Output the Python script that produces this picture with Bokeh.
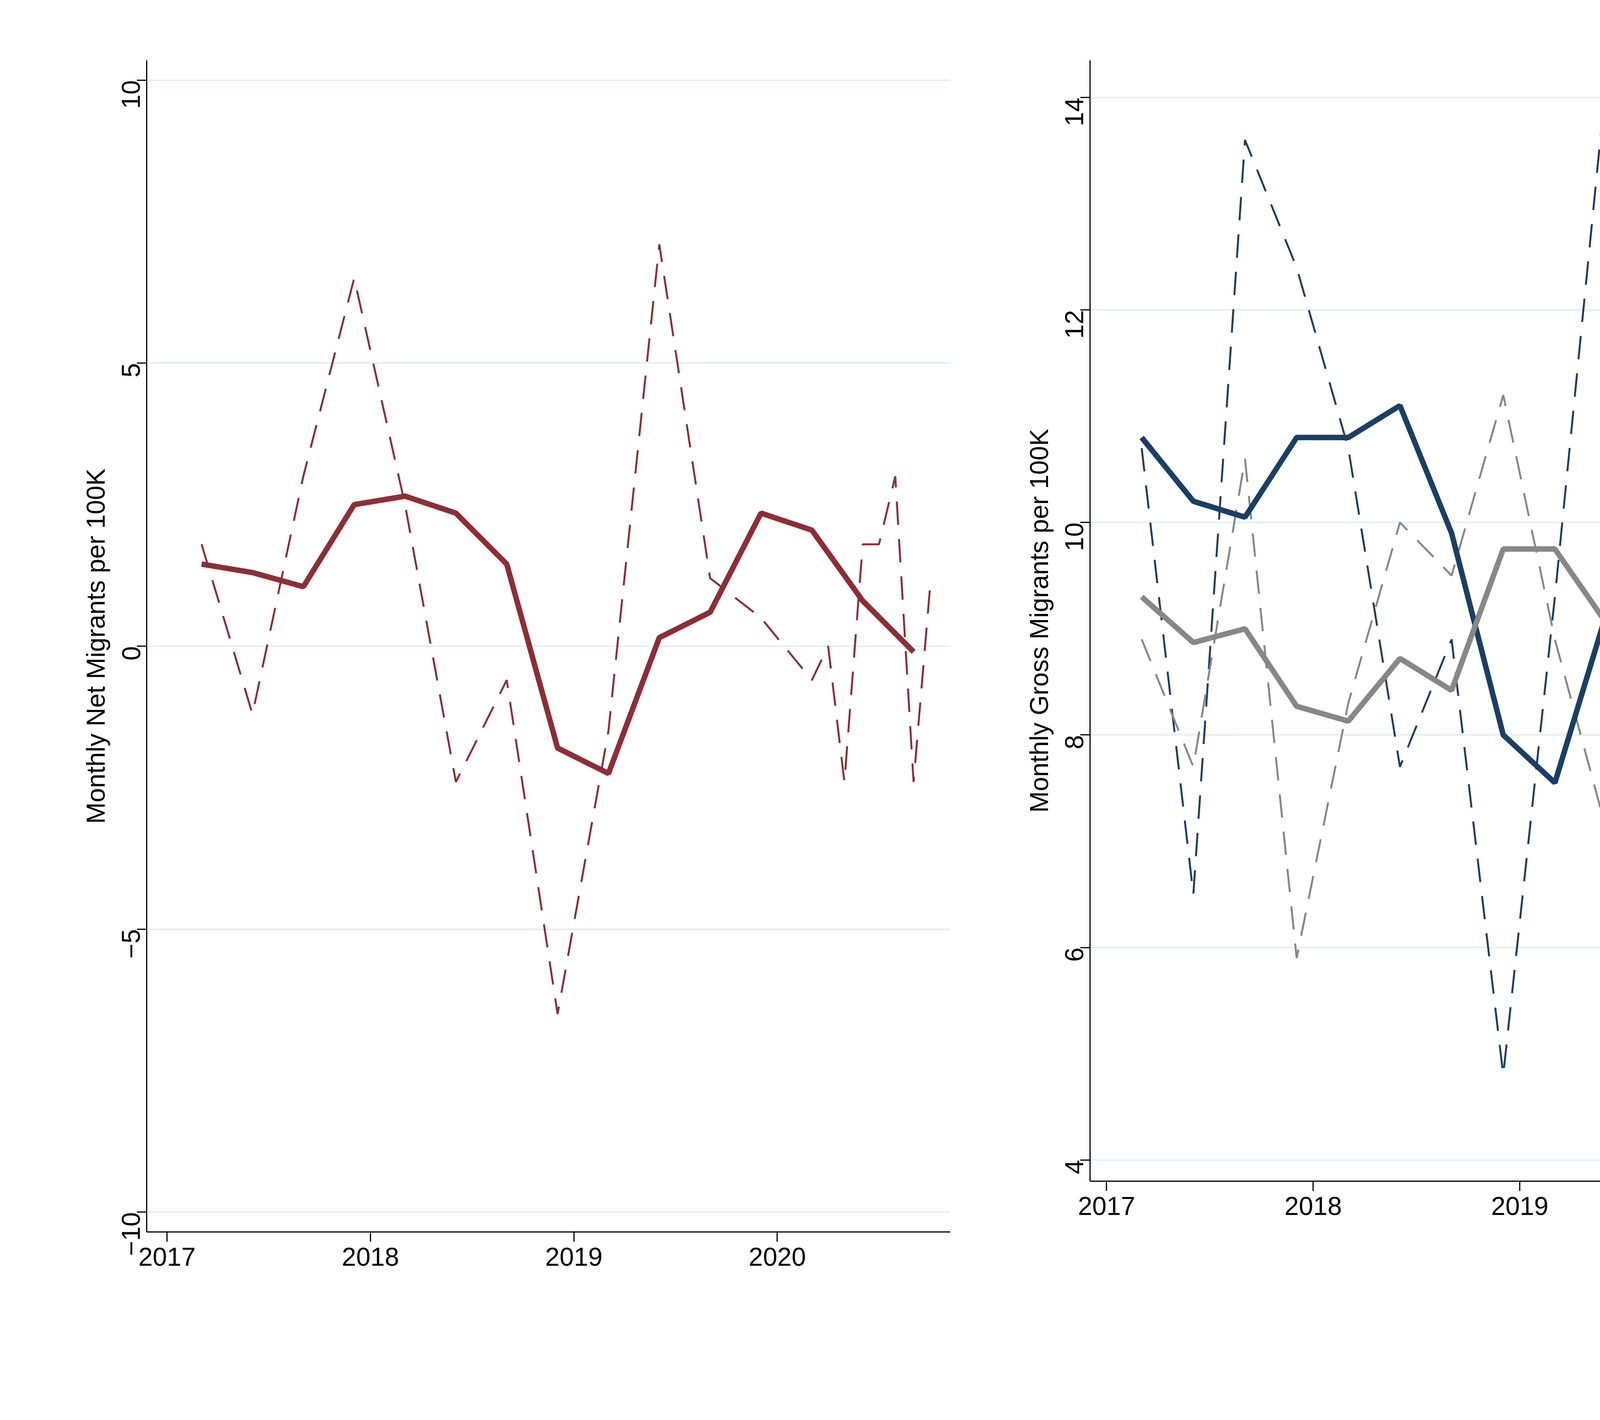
import math
from bokeh.plotting import figure
from bokeh.layouts import row
from bokeh.models import Legend, LegendItem, FixedTicker, Range1d
from bokeh.embed import file_html
from bokeh.resources import INLINE

q_x = [2017.17,2017.42,2017.67,2017.92,2018.17,2018.42,2018.67,2018.92,2019.17,2019.42,2019.67,2019.92,2020.17,2020.42,2020.67]
net_x = q_x[:13] + [2020.25,2020.33,2020.42,2020.5,2020.58,2020.67,2020.75]
net_out = [1.8,-1.2,3.0,6.5,2.5,-2.4,-0.6,-6.5,-1.5,7.1,1.2,0.5,-0.6,0.0,-2.4,1.8,1.8,3.0,-2.4,1.0]
net_ma = [1.45,1.3,1.05,2.5,2.65,2.35,1.45,-1.8,-2.25,0.15,0.6,2.35,2.05,0.8,-0.1]

g_x = q_x[:12] + [2020.17,2020.25,2020.33,2020.42,2020.5,2020.58,2020.67,2020.75]
gout = [10.7,6.5,13.6,12.4,10.7,7.7,8.9,4.8,9.3,14.2,8.9,8.3,6.5,6.5,6.5,8.9,10.7,6.5,9.4,9.4]
gin = [8.9,7.7,10.6,5.9,8.3,10.0,9.5,11.2,8.9,7.1,7.7,7.7,7.7,6.5,8.9,6.5,7.7,7.7,8.9,8.3]
gout_ma = [10.8,10.2,10.05,10.8,10.8,11.1,9.9,8.0,7.55,9.15,9.15,10.05,9.6,8.15,7.55]
gin_ma = [9.3,8.87,9.0,8.27,8.13,8.72,8.42,9.75,9.75,9.05,8.57,7.7,7.55,7.4,7.68]

RED = "#8f2d35"; BLUE = "#1a3f66"; GREY = "#878787"
FS = "66px"
FONT = "Liberation Sans"

def style(p, yticks):
    p.xaxis.ticker = FixedTicker(ticks=[2017, 2018, 2019, 2020])
    p.yaxis.ticker = FixedTicker(ticks=yticks)
    p.yaxis.major_label_orientation = math.pi/2
    for ax in (p.xaxis, p.yaxis):
        ax.major_label_text_font_size = FS
        ax.major_label_text_font = FONT
        ax.major_label_text_color = "black"
        ax.axis_label_text_font_size = FS
        ax.axis_label_text_font = FONT
        ax.axis_label_text_color = "black"
        ax.axis_label_text_font_style = "normal"
        ax.axis_line_color = "black"; ax.axis_line_width = 3
        ax.major_tick_line_width = 3; ax.major_tick_out = 25; ax.major_tick_in = 0
        ax.minor_tick_line_color = None
        ax.major_label_standoff = 15
    p.xgrid.grid_line_color = None
    p.ygrid.grid_line_color = "#e4eef0"; p.ygrid.grid_line_width = 4
    p.outline_line_color = None

def mk_legend(items, loc, **kw):
    return Legend(items=items, location=loc, label_text_font_size=FS, label_text_font=FONT,
                  label_text_color="black", glyph_height=60, label_standoff=75,
                  border_line_color=None, background_fill_alpha=0, padding=0, margin=0, **kw)

DASH = "60 36"
p1 = figure(width=2490, height=3610, frame_width=2057, frame_height=3000,
            output_backend="svg", toolbar_location=None,
            x_range=Range1d(2016.9, 2020.85), y_range=Range1d(-10.35, 10.35),
            min_border_left=375, min_border_top=154, min_border_right=58, min_border_bottom=456)
style(p1, [-10, -5, 0, 5, 10])
p1.yaxis.axis_label = "Monthly Net Migrants per 100K"
r1 = p1.line(net_x, net_out, line_color=RED, line_width=5, line_dash=DASH)
r2 = p1.line(q_x, net_ma, line_color=RED, line_width=14)
lg1 = mk_legend([LegendItem(label="Net Outflow", renderers=[r1]),
                 LegendItem(label="Net Outflow 4QMA", renderers=[r2])],
                (57, -330), orientation="horizontal", glyph_width=280, spacing=190)
p1.add_layout(lg1)

p2 = figure(width=2490, height=3610, frame_width=2068, frame_height=2870,
            output_backend="svg", toolbar_location=None,
            x_range=Range1d(2016.92, 2020.83), y_range=Range1d(3.8, 14.35),
            min_border_left=300, min_border_top=154, min_border_right=122, min_border_bottom=586)
style(p2, [4, 6, 8, 10, 12, 14])
p2.yaxis.axis_label = "Monthly Gross Migrants per 100K"
a = p2.line(g_x, gout, line_color=BLUE, line_width=5, line_dash=DASH)
b = p2.line(g_x, gin, line_color=GREY, line_width=5, line_dash=DASH)
c = p2.line(q_x, gout_ma, line_color=BLUE, line_width=14)
d = p2.line(q_x, gin_ma, line_color=GREY, line_width=14)
lg2 = mk_legend([LegendItem(label="Gross Outflow", renderers=[a]),
                 LegendItem(label="Gross Inflow", renderers=[b]),
                 LegendItem(label="Gross Outflow 4QMA", renderers=[c]),
                 LegendItem(label="Gross Inflow 4QMA", renderers=[d])],
                (52, -445), nrows=2, glyph_width=262, spacing=60)
p2.add_layout(lg2)

lay = row(p1, p2)
open("out.html", "w").write(file_html(lay, INLINE))
